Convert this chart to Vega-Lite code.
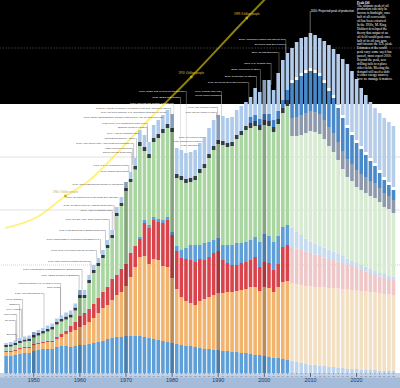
{
  "$schema": "https://vega.github.io/schema/vega-lite/v6.json",
  "width": 400,
  "height": 388,
  "autosize": {"type": "none"},
  "padding": 0,
  "background": "#ffffff",
  "config": {
    "view": {"stroke": null},
    "font": "Liberation Sans"
  },
  "datasets": {
    "hist": [
      {"year":1944,"h1":17,"h2":4,"h3":1,"h4":0.5,"h5":3.5,"h6":2,"h7":0,"h8":2},
      {"year":1945,"h1":17,"h2":4,"h3":1,"h4":0.5,"h5":4,"h6":2,"h7":0,"h8":2.5},
      {"year":1946,"h1":18,"h2":4,"h3":1,"h4":0.5,"h5":4.5,"h6":2,"h7":0,"h8":2.5},
      {"year":1947,"h1":19,"h2":5,"h3":1,"h4":0.5,"h5":4.5,"h6":2,"h7":0,"h8":3},
      {"year":1948,"h1":20,"h2":5,"h3":1,"h4":0.5,"h5":5,"h6":2,"h7":0,"h8":3},
      {"year":1949,"h1":20,"h2":5,"h3":1,"h4":0.5,"h5":5.5,"h6":2.5,"h7":0,"h8":3},
      {"year":1950,"h1":22,"h2":6,"h3":1,"h4":0.5,"h5":6,"h6":2.5,"h7":0,"h8":3},
      {"year":1951,"h1":23,"h2":6,"h3":1,"h4":0.5,"h5":7,"h6":2.5,"h7":0,"h8":3},
      {"year":1952,"h1":24,"h2":6,"h3":1,"h4":0.5,"h5":8,"h6":2.5,"h7":0,"h8":3},
      {"year":1953,"h1":24,"h2":7,"h3":1,"h4":0.5,"h5":9,"h6":2.5,"h7":0,"h8":3.5},
      {"year":1954,"h1":24,"h2":7,"h3":1,"h4":0.5,"h5":11,"h6":2.5,"h7":0,"h8":3.5},
      {"year":1955,"h1":26,"h2":8,"h3":2,"h4":0.5,"h5":12,"h6":2.5,"h7":0,"h8":3.5},
      {"year":1956,"h1":27,"h2":9,"h3":3,"h4":0.5,"h5":12,"h6":2.5,"h7":0,"h8":3.5},
      {"year":1957,"h1":27,"h2":12,"h3":3,"h4":0.5,"h5":11,"h6":3,"h7":0,"h8":4},
      {"year":1958,"h1":26,"h2":15,"h3":6,"h4":0.5,"h5":8,"h6":3,"h7":0,"h8":4},
      {"year":1959,"h1":27,"h2":16,"h3":8,"h4":0.5,"h5":11,"h6":3,"h7":0,"h8":4},
      {"year":1960,"h1":28,"h2":18,"h3":11,"h4":0.5,"h5":17.5,"h6":3,"h7":0,"h8":5},
      {"year":1961,"h1":28,"h2":20,"h3":12,"h4":0.5,"h5":14.5,"h6":3,"h7":0,"h8":5},
      {"year":1962,"h1":29,"h2":22,"h3":13,"h4":0.5,"h5":25.5,"h6":3,"h7":0,"h8":5},
      {"year":1963,"h1":30,"h2":25,"h3":14,"h4":0.5,"h5":30.5,"h6":3,"h7":0,"h8":5},
      {"year":1964,"h1":31,"h2":29,"h3":15,"h4":0.5,"h5":31.5,"h6":3,"h7":0,"h8":5},
      {"year":1965,"h1":32,"h2":33,"h3":16,"h4":0.5,"h5":33.5,"h6":3,"h7":0,"h8":5},
      {"year":1966,"h1":34,"h2":34,"h3":18,"h4":0.5,"h5":38.5,"h6":3,"h7":0,"h8":5},
      {"year":1967,"h1":35,"h2":38,"h3":21,"h4":0.5,"h5":40.5,"h6":3,"h7":0,"h8":5},
      {"year":1968,"h1":36,"h2":42,"h3":20,"h4":0.5,"h5":58.5,"h6":3,"h7":0,"h8":6},
      {"year":1969,"h1":36,"h2":45,"h3":23,"h4":0.5,"h5":62.5,"h6":3,"h7":0,"h8":6},
      {"year":1970,"h1":37,"h2":50,"h3":22,"h4":0.5,"h5":72.5,"h6":3,"h7":0,"h8":6},
      {"year":1971,"h1":37,"h2":59,"h3":24,"h4":0.5,"h5":70.5,"h6":3,"h7":0,"h8":7},
      {"year":1972,"h1":37,"h2":69,"h3":21,"h4":0.5,"h5":76,"h6":3.5,"h7":0,"h8":8},
      {"year":1973,"h1":37,"h2":79,"h3":18,"h4":2,"h5":91,"h6":4,"h7":0,"h8":12},
      {"year":1974,"h1":36,"h2":81,"h3":33,"h4":3,"h5":69,"h6":4,"h7":0,"h8":12},
      {"year":1975,"h1":35,"h2":74,"h3":36,"h4":3,"h5":67,"h6":4,"h7":0,"h8":12},
      {"year":1976,"h1":34,"h2":80,"h3":39,"h4":3,"h5":75,"h6":4,"h7":0,"h8":13},
      {"year":1977,"h1":33,"h2":80,"h3":38,"h4":3,"h5":81,"h6":4,"h7":0,"h8":14},
      {"year":1978,"h1":32,"h2":75,"h3":43,"h4":3,"h5":87,"h6":4,"h7":0,"h8":14},
      {"year":1979,"h1":31,"h2":75,"h3":47,"h4":3,"h5":89,"h6":4,"h7":0,"h8":14},
      {"year":1980,"h1":30,"h2":65,"h3":43,"h4":3,"h5":100,"h6":4,"h7":0,"h8":14},
      {"year":1981,"h1":29,"h2":55,"h3":38,"h4":5,"h5":68,"h6":4,"h7":0,"h8":26},
      {"year":1982,"h1":28,"h2":48,"h3":39,"h4":8,"h5":70,"h6":4,"h7":0,"h8":26},
      {"year":1983,"h1":27,"h2":45,"h3":42,"h4":11,"h5":65,"h6":4,"h7":0,"h8":26},
      {"year":1984,"h1":27,"h2":43,"h3":43,"h4":15,"h5":63,"h6":4,"h7":0,"h8":26},
      {"year":1985,"h1":26,"h2":42,"h3":43,"h4":17,"h5":65,"h6":4,"h7":0,"h8":26},
      {"year":1986,"h1":25,"h2":47,"h3":42,"h4":14,"h5":72,"h6":4,"h7":0,"h8":26},
      {"year":1987,"h1":24,"h2":50,"h3":39,"h4":17,"h5":75,"h6":4,"h7":0,"h8":26},
      {"year":1988,"h1":24,"h2":52,"h3":40,"h4":15,"h5":84,"h6":4,"h7":0,"h8":26},
      {"year":1989,"h1":23,"h2":55,"h3":42,"h4":13,"h5":90,"h6":4,"h7":0,"h8":26},
      {"year":1990,"h1":23,"h2":57,"h3":42,"h4":13,"h5":94,"h6":4,"h7":0,"h8":25},
      {"year":1991,"h1":22,"h2":58,"h3":33,"h4":15,"h5":100,"h6":4,"h7":0,"h8":25},
      {"year":1992,"h1":22,"h2":59,"h3":29,"h4":18,"h5":98,"h6":4,"h7":0,"h8":25},
      {"year":1993,"h1":21,"h2":60,"h3":27,"h4":20,"h5":99,"h6":4,"h7":0,"h8":25},
      {"year":1994,"h1":21,"h2":61,"h3":26,"h4":22,"h5":104,"h6":4,"h7":0,"h8":25},
      {"year":1995,"h1":20,"h2":63,"h3":27,"h4":20,"h5":108,"h6":4,"h7":0,"h8":25},
      {"year":1996,"h1":20,"h2":64,"h3":27,"h4":20,"h5":112,"h6":4,"h7":0,"h8":24},
      {"year":1997,"h1":19,"h2":67,"h3":27,"h4":20,"h5":112,"h6":5,"h7":6,"h8":20},
      {"year":1998,"h1":18,"h2":68,"h3":30,"h4":20,"h5":111,"h6":5,"h7":6,"h8":27},
      {"year":1999,"h1":18,"h2":64,"h3":24,"h4":25,"h5":112,"h6":5,"h7":6,"h8":27},
      {"year":2000,"h1":17,"h2":69,"h3":25,"h4":28,"h5":109,"h6":5,"h7":6,"h8":34},
      {"year":2001,"h1":16,"h2":69,"h3":25,"h4":27,"h5":110,"h6":5,"h7":7,"h8":34},
      {"year":2002,"h1":15,"h2":66,"h3":22,"h4":28,"h5":110,"h6":5,"h7":7,"h8":30},
      {"year":2003,"h1":15,"h2":71,"h3":23,"h4":28,"h5":112,"h6":5,"h7":8,"h8":38},
      {"year":2004,"h1":14,"h2":77,"h3":35,"h4":20,"h5":114,"h6":5,"h7":8,"h8":40},
      {"year":2005,"h1":13,"h2":79,"h3":36,"h4":20,"h5":119,"h6":6,"h7":10,"h8":37}
    ],
    "proj": [
      {"year":2006,"p1":12,"p2":78,"p3":36,"p4":19,"p5":92,"p6":18,"p7":35,"p8":3,"p9":32},
      {"year":2007,"p1":11,"p2":78,"p3":35.5,"p4":16.5,"p5":96,"p6":19,"p7":37,"p8":3,"p9":35},
      {"year":2008,"p1":10,"p2":78,"p3":35,"p4":15,"p5":100,"p6":20,"p7":39,"p8":3,"p9":35},
      {"year":2009,"p1":9,"p2":78,"p3":34.5,"p4":13,"p5":105.5,"p6":20,"p7":40,"p8":3,"p9":33},
      {"year":2010,"p1":8,"p2":78.5,"p3":33.5,"p4":11.5,"p5":110.5,"p6":20,"p7":40,"p8":3,"p9":35},
      {"year":2011,"p1":8,"p2":78,"p3":32.5,"p4":11,"p5":111.5,"p6":20,"p7":39,"p8":3,"p9":35},
      {"year":2012,"p1":7,"p2":79,"p3":31,"p4":10.5,"p5":111.5,"p6":20,"p7":38,"p8":3,"p9":35},
      {"year":2013,"p1":7,"p2":78.5,"p3":30,"p4":10,"p5":108.5,"p6":19,"p7":37,"p8":3,"p9":39},
      {"year":2014,"p1":6,"p2":79,"p3":29,"p4":9.5,"p5":103.5,"p6":19,"p7":36,"p8":3,"p9":43},
      {"year":2015,"p1":6,"p2":79,"p3":28,"p4":8.5,"p5":99.5,"p6":19,"p7":35,"p8":3,"p9":46},
      {"year":2016,"p1":5,"p2":79.5,"p3":27,"p4":7.5,"p5":94,"p6":18,"p7":34,"p8":3,"p9":51},
      {"year":2017,"p1":5,"p2":79,"p3":26,"p4":7,"p5":87,"p6":18,"p7":33,"p8":3,"p9":56},
      {"year":2018,"p1":4,"p2":79.5,"p3":25,"p4":6,"p5":81.5,"p6":18,"p7":31,"p8":3,"p9":61},
      {"year":2019,"p1":4,"p2":79,"p3":24,"p4":5,"p5":80,"p6":17,"p7":29,"p8":3,"p9":61},
      {"year":2020,"p1":4,"p2":79,"p3":22,"p4":5,"p5":76,"p6":17,"p7":27,"p8":3,"p9":61},
      {"year":2021,"p1":3,"p2":79,"p3":21,"p4":5,"p5":75,"p6":16,"p7":25,"p8":3,"p9":58},
      {"year":2022,"p1":3,"p2":78.5,"p3":20,"p4":4.5,"p5":74,"p6":16,"p7":22,"p8":3,"p9":57},
      {"year":2023,"p1":3,"p2":78,"p3":19,"p4":4,"p5":73,"p6":15,"p7":20,"p8":3,"p9":56},
      {"year":2024,"p1":3,"p2":77.5,"p3":17.5,"p4":4,"p5":73,"p6":15,"p7":17,"p8":3,"p9":55},
      {"year":2025,"p1":2,"p2":78,"p3":16.5,"p4":3.5,"p5":71,"p6":14,"p7":15,"p8":3,"p9":57},
      {"year":2026,"p1":2,"p2":77,"p3":16,"p4":4,"p5":67,"p6":14,"p7":13,"p8":3,"p9":59},
      {"year":2027,"p1":2,"p2":76.5,"p3":15.5,"p4":3.5,"p5":66.5,"p6":13,"p7":11,"p8":3,"p9":60},
      {"year":2028,"p1":2,"p2":76,"p3":15,"p4":3.5,"p5":63.5,"p6":13,"p7":10,"p8":3,"p9":61}
    ],
    "decades": [
      {"year":1950,"v":41},{"year":1960,"v":83},{"year":1970,"v":191},
      {"year":1980,"v":259},{"year":1990,"v":258},{"year":2000,"v":293}
    ],
    "decadeLabels": [
      {"year":1950,"label":"1950"},{"year":1960,"label":"1960"},{"year":1970,"label":"1970"},
      {"year":1980,"label":"1980"},{"year":1990,"label":"1990"},{"year":2000,"label":"2000"},
      {"year":2010,"label":"2010"},{"year":2020,"label":"2020"}
    ],
    "yearTicks": [
      {"year":1944,"t":"44"},{"year":1945,"t":"45"},{"year":1946,"t":"46"},{"year":1947,"t":"47"},{"year":1948,"t":"48"},{"year":1949,"t":"49"},
      {"year":1951,"t":"51"},{"year":1952,"t":"52"},{"year":1953,"t":"53"},{"year":1954,"t":"54"},{"year":1955,"t":"55"},{"year":1956,"t":"56"},{"year":1957,"t":"57"},{"year":1958,"t":"58"},{"year":1959,"t":"59"},
      {"year":1961,"t":"61"},{"year":1962,"t":"62"},{"year":1963,"t":"63"},{"year":1964,"t":"64"},{"year":1965,"t":"65"},{"year":1966,"t":"66"},{"year":1967,"t":"67"},{"year":1968,"t":"68"},{"year":1969,"t":"69"},
      {"year":1971,"t":"71"},{"year":1972,"t":"72"},{"year":1973,"t":"73"},{"year":1974,"t":"74"},{"year":1975,"t":"75"},{"year":1976,"t":"76"},{"year":1977,"t":"77"},{"year":1978,"t":"78"},{"year":1979,"t":"79"},
      {"year":1981,"t":"81"},{"year":1982,"t":"82"},{"year":1983,"t":"83"},{"year":1984,"t":"84"},{"year":1985,"t":"85"},{"year":1986,"t":"86"},{"year":1987,"t":"87"},{"year":1988,"t":"88"},{"year":1989,"t":"89"},
      {"year":1991,"t":"91"},{"year":1992,"t":"92"},{"year":1993,"t":"93"},{"year":1994,"t":"94"},{"year":1995,"t":"95"},{"year":1996,"t":"96"},{"year":1997,"t":"97"},{"year":1998,"t":"98"},{"year":1999,"t":"99"},
      {"year":2001,"t":"01"},{"year":2002,"t":"02"},{"year":2003,"t":"03"},{"year":2004,"t":"04"},{"year":2005,"t":"05"},{"year":2006,"t":"06"},{"year":2007,"t":"07"},{"year":2008,"t":"08"},{"year":2009,"t":"09"},
      {"year":2011,"t":"11"},{"year":2012,"t":"12"},{"year":2013,"t":"13"},{"year":2014,"t":"14"},{"year":2015,"t":"15"},{"year":2016,"t":"16"},{"year":2017,"t":"17"},{"year":2018,"t":"18"},{"year":2019,"t":"19"},
      {"year":2021,"t":"21"},{"year":2022,"t":"22"},{"year":2023,"t":"23"},{"year":2024,"t":"24"},{"year":2025,"t":"25"},{"year":2026,"t":"26"},{"year":2027,"t":"27"},{"year":2028,"t":"28"}
    ],
    "population": [
      {"year":1943.76,"v":145},{"year":1950.74,"v":156},{"year":1956.87,"v":177},
      {"year":1962.16,"v":193},{"year":1964.9,"v":205},{"year":1974.42,"v":251},
      {"year":1984.14,"v":296},{"year":1996.19,"v":355},{"year":2005.3,"v":398}
    ],
    "milestones": [
      {"year":1956.87,"v":177,"label":"1960: 3 billion people"},
      {"year":1984.14,"v":296,"label":"1974: 4 billion people"},
      {"year":1996.19,"v":355,"label":"1999: 6 billion people"}
    ],
    "notes": [
      {"year":1969.56,"v":189,"top":189,"text":"1970: Libya nationalizes foreign oil operations"},
      {"year":1968.50,"v":176,"top":176,"text":"1969: Oil discovered in the North Sea (Ekofisk)"},
      {"year":1967.44,"v":168,"top":143,"text":"1968: Oil discovered on Alaska's North Slope"},
      {"year":1967.02,"v":163,"top":143,"text":"1967: Arab oil embargo fails"},
      {"year":1966.38,"v":154,"top":133,"text":"1967: Six-Day War: Suez Canal closed"},
      {"year":1965.54,"v":143,"top":128,"text":"1965: First gas found in British North Sea"},
      {"year":1964.48,"v":134,"top":119,"text":"1963: Middle East oil production surpasses U.S."},
      {"year":1963.64,"v":123,"top":115,"text":"1962: Price of oil falls to $1.80 per barrel"},
      {"year":1962.37,"v":112,"top":98,"text":"1961: Shell deploys floating drilling rig"},
      {"year":1960.47,"v":104,"top":83,"text":"1961: Iraq threat to Kuwait thwarted by British troops"},
      {"year":1959.83,"v":98,"top":83,"text":"1960: OPEC founded in Baghdad"},
      {"year":1955.81,"v":90,"top":57,"text":"Hubbert predicts U.S. oil peak in 1970"},
      {"year":1955.81,"v":86,"top":57,"text":"Suez Crisis"},
      {"year":1952.22,"v":80,"top":45,"text":"1951: Iran nationalizes oil"},
      {"year":1947.57,"v":74,"top":36,"text":"1948: Ghawar"},
      {"year":1946.93,"v":69,"top":35,"text":"Offshore"},
      {"year":1947.36,"v":64,"top":35,"text":"1946: Kuwait"},
      {"year":1946.30,"v":59,"top":32,"text":"WWII ends"},
      {"year":1946.09,"v":53,"top":32,"text":"Oil boom"},
      {"year":1946.30,"v":39,"top":32,"text":"Big Inch"},
      {"year":1983.09,"v":282,"top":220,"text":"1983: OPEC cuts oil price for the first time"},
      {"year":1981.82,"v":276,"top":223,"text":"1982: OPEC sets quotas"},
      {"year":1980.34,"v":270,"top":259,"text":"1980: Iran-Iraq war begins; exports cut"},
      {"year":1979.70,"v":265,"top":259,"text":"1978-79: Iranian revolution; oil output in Iran falls, second oil shock"},
      {"year":1978.86,"v":261,"top":261,"text":"1979: Oil price doubles; U.S. decontrols domestic oil prices"},
      {"year":1978.22,"v":256,"top":256,"text":"1978: Carter administration imposes \"gas guzzler\" tax on inefficient cars"},
      {"year":1974.63,"v":250,"top":231,"text":"1975: Price of oil quadruples since 1973"},
      {"year":1974.63,"v":246,"top":231,"text":"Strategic Reserve created"},
      {"year":1972.94,"v":240,"top":240,"text":"1974: Arab oil embargo lifted"},
      {"year":1972.30,"v":235,"top":215,"text":"International Energy Agency"},
      {"year":1971.67,"v":230,"top":215,"text":"1973: Yom Kippur War; Arab producers embargo oil"},
      {"year":1971.46,"v":225,"top":208,"text":"Alaska pipeline approved"},
      {"year":1971.25,"v":221,"top":201,"text":"Speed limit set at 55 mph"},
      {"year":1970.61,"v":208,"top":201,"text":"1971: U.S. oil production peaks"},
      {"year":1970.61,"v":202,"top":201,"text":"1971: Tehran agreement"},
      {"year":2004.65,"v":334,"top":320,"text":"2005: Hurricanes Katrina and Rita hit Gulf"},
      {"year":2004.65,"v":329,"top":320,"text":"Oil prices pass $70 a barrel"},
      {"year":2003.17,"v":321,"top":300,"text":"2004: Oil hits $50/barrel"},
      {"year":2001.48,"v":310,"top":288,"text":"2003: U.S. invades Iraq"},
      {"year":1999.15,"v":304,"top":281,"text":"2002: Venezuela oil strike"},
      {"year":1998.31,"v":297,"top":285,"text":"2001: September 11 attacks"},
      {"year":1996.62,"v":291,"top":276,"text":"1998: Oil prices fall to $10 per barrel"},
      {"year":1990.70,"v":282,"top":257,"text":"1991: Persian Gulf War"},
      {"year":1990.70,"v":278,"top":257,"text":"Soviet Union collapses"},
      {"year":1989.85,"v":266,"top":258,"text":"1990: Iraq invades Kuwait"},
      {"year":1989.64,"v":261,"top":255,"text":"1989: Exxon Valdez oil spill"},
      {"year":1987.53,"v":236,"top":236,"text":"1986: Oil prices collapse"},
      {"year":1986.68,"v":232,"top":232,"text":"1985: Saudis flood market"},
      {"year":1986.05,"v":228,"top":228,"text":"1986: Chernobyl"}
    ],
    "peak": [{"year":2009.94,"v":362,"top":340,"text":"2010: Projected peak of production"}],
    "heading": [{"year":2020.08,"v":372.4,"text":"Peak Oil"}],
    "paragraph": [{"year":2020.08,"v":369.4,"lines":[
      "The ultimate peak of oil",
      "production can only be",
      "known in hindsight, once",
      "half of all recoverable",
      "oil has been extracted.",
      "   In the 1950s, M. King",
      "Hubbert developed the",
      "theory that output of an",
      "oil field would peak once",
      "half of its oil was gone,",
      "and foresaw the U.S. peak.",
      "   Estimates of the world",
      "peak vary: some say it has",
      "passed, most expect 2010.",
      "   Beyond the peak, new",
      "drilling fails to replace",
      "older fields. Meeting the",
      "demand will need a shift",
      "to other energy sources;",
      "how we manage it matters."
    ]}],
    "bandLow": [{"v":-15,"v2":0}],
    "bandStrip": [{"v":-4.5,"v2":0}],
    "bandBlack": [{"v":269,"v2":373}],
    "gridWhite": [{"v":216},{"v":163}],
    "gridDotted": [{"v":108}],
    "gridBlack": [{"v":325}]
  },
  "layer": [
    {
      "data": {"name": "bandLow"},
      "mark": {"type": "rect", "color": "#a4bbd9"},
      "encoding": {
        "y": {"field": "v", "type": "quantitative", "scale": {"domain": [-15, 373], "nice": false, "zero": false}, "axis": null},
        "y2": {"field": "v2"}
      }
    },
    {
      "data": {"name": "bandStrip"},
      "mark": {"type": "rect", "color": "#c3d2e7"},
      "encoding": {
        "y": {"field": "v", "type": "quantitative", "scale": {"domain": [-15, 373], "nice": false, "zero": false}, "axis": null},
        "y2": {"field": "v2"}
      }
    },
    {
      "data": {"name": "bandBlack"},
      "mark": {"type": "rect", "color": "#000000"},
      "encoding": {
        "y": {"field": "v", "type": "quantitative", "scale": {"domain": [-15, 373], "nice": false, "zero": false}, "axis": null},
        "y2": {"field": "v2"}
      }
    },
    {
      "data": {"name": "gridWhite"},
      "mark": {"type": "rule", "color": "#cfcfcf", "strokeWidth": 0.6},
      "encoding": {
        "y": {"field": "v", "type": "quantitative", "scale": {"domain": [-15, 373], "nice": false, "zero": false}, "axis": null}
      }
    },
    {
      "data": {"name": "gridDotted"},
      "mark": {"type": "rule", "color": "#b5b5b5", "strokeWidth": 0.6, "strokeDash": [1, 1]},
      "encoding": {
        "y": {"field": "v", "type": "quantitative", "scale": {"domain": [-15, 373], "nice": false, "zero": false}, "axis": null}
      }
    },
    {
      "data": {"name": "gridBlack"},
      "mark": {"type": "rule", "color": "#6a6a6a", "strokeWidth": 0.6, "strokeDash": [1.5, 1.5]},
      "encoding": {
        "y": {"field": "v", "type": "quantitative", "scale": {"domain": [-15, 373], "nice": false, "zero": false}, "axis": null}
      }
    },
    {
      "data": {"name": "hist"},
      "transform": [{"fold": ["h1","h2","h3","h4","h5","h6","h7","h8"], "as": ["k", "v"]}],
      "mark": {"type": "bar", "width": 3.6, "orient": "vertical"},
      "encoding": {
        "x": {"field": "year", "type": "quantitative", "scale": {"domain": [1943.76, 2028.33], "nice": false, "zero": false}, "axis": null},
        "y": {"field": "v", "type": "quantitative", "stack": "zero", "scale": {"domain": [-15, 373], "nice": false, "zero": false}, "axis": null},
        "color": {"field": "k", "type": "nominal", "legend": null,
          "scale": {"domain": ["h1","h2","h3","h4","h5","h6","h7","h8","p1","p2","p3","p4","p5","p6","p7","p8","p9"],
                    "range": ["#5e9fd8","#f2b36d","#d9444c","#5e9fd8","#a9d5a1","#353c48","#3f7fc5","#aecaeb","#bcd3ee","#f3e0c3","#eec7c8","#c6daf0","#d7ead2","#8e9aab","#4a89c9","#ffffff","#b6cdea"]}},
        "order": {"field": "k", "type": "ordinal"}
      }
    },
    {
      "data": {"name": "proj"},
      "transform": [{"fold": ["p1","p2","p3","p4","p5","p6","p7","p8","p9"], "as": ["k", "v"]}],
      "mark": {"type": "bar", "width": 3.6, "orient": "vertical"},
      "encoding": {
        "x": {"field": "year", "type": "quantitative", "scale": {"domain": [1943.76, 2028.33], "nice": false, "zero": false}, "axis": null},
        "y": {"field": "v", "type": "quantitative", "stack": "zero", "scale": {"domain": [-15, 373], "nice": false, "zero": false}, "axis": null},
        "color": {"field": "k", "type": "nominal", "legend": null,
          "scale": {"domain": ["h1","h2","h3","h4","h5","h6","h7","h8","p1","p2","p3","p4","p5","p6","p7","p8","p9"],
                    "range": ["#5e9fd8","#f2b36d","#d9444c","#5e9fd8","#a9d5a1","#353c48","#3f7fc5","#aecaeb","#bcd3ee","#f3e0c3","#eec7c8","#c6daf0","#d7ead2","#8e9aab","#4a89c9","#ffffff","#b6cdea"]}},
        "order": {"field": "k", "type": "ordinal"}
      }
    },
    {
      "data": {"name": "decades"},
      "mark": {"type": "bar", "width": 3.6, "color": "#000000", "opacity": 0.22},
      "encoding": {
        "x": {"field": "year", "type": "quantitative", "scale": {"domain": [1943.76, 2028.33], "nice": false, "zero": false}, "axis": null},
        "y": {"field": "v", "type": "quantitative", "scale": {"domain": [-15, 373], "nice": false, "zero": false}, "axis": null}
      }
    },
    {
      "data": {"name": "yearTicks"},
      "mark": {"type": "rule", "color": "#44506a", "strokeWidth": 0.5},
      "encoding": {
        "x": {"field": "year", "type": "quantitative", "scale": {"domain": [1943.76, 2028.33], "nice": false, "zero": false}, "axis": null},
        "y": {"datum": 0, "type": "quantitative", "scale": {"domain": [-15, 373], "nice": false, "zero": false}, "axis": null},
        "y2": {"datum": -1.3}
      }
    },
    {
      "data": {"name": "yearTicks"},
      "mark": {"type": "text", "fontSize": 2.3, "color": "#56627c", "baseline": "middle", "align": "center"},
      "encoding": {
        "x": {"field": "year", "type": "quantitative", "scale": {"domain": [1943.76, 2028.33], "nice": false, "zero": false}, "axis": null},
        "y": {"datum": -2.9, "type": "quantitative", "scale": {"domain": [-15, 373], "nice": false, "zero": false}, "axis": null},
        "text": {"field": "t", "type": "nominal"}
      }
    },
    {
      "data": {"name": "decadeLabels"},
      "mark": {"type": "rule", "color": "#2a3a5c", "strokeWidth": 0.7},
      "encoding": {
        "x": {"field": "year", "type": "quantitative", "scale": {"domain": [1943.76, 2028.33], "nice": false, "zero": false}, "axis": null},
        "y": {"datum": 0, "type": "quantitative", "scale": {"domain": [-15, 373], "nice": false, "zero": false}, "axis": null},
        "y2": {"datum": -4}
      }
    },
    {
      "data": {"name": "decadeLabels"},
      "mark": {"type": "text", "fontSize": 5.4, "color": "#2a3a5c", "baseline": "middle", "align": "center"},
      "encoding": {
        "x": {"field": "year", "type": "quantitative", "scale": {"domain": [1943.76, 2028.33], "nice": false, "zero": false}, "axis": null},
        "y": {"datum": -6.8, "type": "quantitative", "scale": {"domain": [-15, 373], "nice": false, "zero": false}, "axis": null},
        "text": {"field": "label", "type": "nominal"}
      }
    },
    {
      "data": {"name": "notes"},
      "transform": [{"filter": "datum.top < datum.v"}],
      "mark": {"type": "rule", "strokeWidth": 0.4},
      "encoding": {
        "x": {"field": "year", "type": "quantitative", "scale": {"domain": [1943.76, 2028.33], "nice": false, "zero": false}, "axis": null},
        "y": {"field": "v", "type": "quantitative", "scale": {"domain": [-15, 373], "nice": false, "zero": false}, "axis": null},
        "y2": {"field": "top"},
        "color": {"condition": {"test": "datum.v > 269", "value": "#bdbdbd"}, "value": "#7a7a7a"}
      }
    },
    {
      "data": {"name": "peak"},
      "mark": {"type": "rule", "strokeWidth": 0.5, "color": "#d0d0d0"},
      "encoding": {
        "x": {"field": "year", "type": "quantitative", "scale": {"domain": [1943.76, 2028.33], "nice": false, "zero": false}, "axis": null},
        "y": {"field": "v", "type": "quantitative", "scale": {"domain": [-15, 373], "nice": false, "zero": false}, "axis": null},
        "y2": {"field": "top"}
      }
    },
    {
      "data": {"name": "population"},
      "mark": {"type": "line", "color": "#ffe81a", "opacity": 0.55, "strokeWidth": 2, "interpolate": "monotone"},
      "encoding": {
        "x": {"field": "year", "type": "quantitative", "scale": {"domain": [1943.76, 2028.33], "nice": false, "zero": false}, "axis": null},
        "y": {"field": "v", "type": "quantitative", "scale": {"domain": [-15, 373], "nice": false, "zero": false}, "axis": null}
      }
    },
    {
      "data": {"name": "milestones"},
      "mark": {"type": "square", "color": "#c9ab00", "opacity": 1, "size": 6},
      "encoding": {
        "x": {"field": "year", "type": "quantitative", "scale": {"domain": [1943.76, 2028.33], "nice": false, "zero": false}, "axis": null},
        "y": {"field": "v", "type": "quantitative", "scale": {"domain": [-15, 373], "nice": false, "zero": false}, "axis": null}
      }
    },
    {
      "data": {"name": "milestones"},
      "mark": {"type": "text", "fontSize": 2.7, "dy": -4, "align": "center", "baseline": "middle"},
      "encoding": {
        "x": {"field": "year", "type": "quantitative", "scale": {"domain": [1943.76, 2028.33], "nice": false, "zero": false}, "axis": null},
        "y": {"field": "v", "type": "quantitative", "scale": {"domain": [-15, 373], "nice": false, "zero": false}, "axis": null},
        "text": {"field": "label", "type": "nominal"},
        "color": {"condition": {"test": "datum.v > 269", "value": "#e5c43a"}, "value": "#b8a96e"}
      }
    },
    {
      "data": {"name": "notes"},
      "mark": {"type": "text", "fontSize": 2.5, "align": "right", "baseline": "middle", "dx": -0.8},
      "encoding": {
        "x": {"field": "year", "type": "quantitative", "scale": {"domain": [1943.76, 2028.33], "nice": false, "zero": false}, "axis": null},
        "y": {"field": "v", "type": "quantitative", "scale": {"domain": [-15, 373], "nice": false, "zero": false}, "axis": null},
        "text": {"field": "text", "type": "nominal"},
        "color": {"condition": {"test": "datum.v > 269", "value": "#ffffff"}, "value": "#3a3a3a"}
      }
    },
    {
      "data": {"name": "peak"},
      "mark": {"type": "text", "fontSize": 2.8, "align": "left", "baseline": "middle", "dx": 0.5, "color": "#ffffff"},
      "encoding": {
        "x": {"field": "year", "type": "quantitative", "scale": {"domain": [1943.76, 2028.33], "nice": false, "zero": false}, "axis": null},
        "y": {"field": "v", "type": "quantitative", "scale": {"domain": [-15, 373], "nice": false, "zero": false}, "axis": null},
        "text": {"field": "text", "type": "nominal"}
      }
    },
    {
      "data": {"name": "heading"},
      "mark": {"type": "text", "font": "Liberation Serif", "fontWeight": "bold", "fontSize": 3.4, "align": "left", "baseline": "top", "color": "#ffffff"},
      "encoding": {
        "x": {"field": "year", "type": "quantitative", "scale": {"domain": [1943.76, 2028.33], "nice": false, "zero": false}, "axis": null},
        "y": {"field": "v", "type": "quantitative", "scale": {"domain": [-15, 373], "nice": false, "zero": false}, "axis": null},
        "text": {"field": "text", "type": "nominal"}
      }
    },
    {
      "data": {"name": "paragraph"},
      "mark": {"type": "text", "font": "Liberation Serif", "fontSize": 3.3, "lineHeight": 3.88, "align": "left", "baseline": "top", "color": "#ffffff"},
      "encoding": {
        "x": {"field": "year", "type": "quantitative", "scale": {"domain": [1943.76, 2028.33], "nice": false, "zero": false}, "axis": null},
        "y": {"field": "v", "type": "quantitative", "scale": {"domain": [-15, 373], "nice": false, "zero": false}, "axis": null},
        "text": {"field": "lines", "type": "nominal"}
      }
    }
  ]
}
